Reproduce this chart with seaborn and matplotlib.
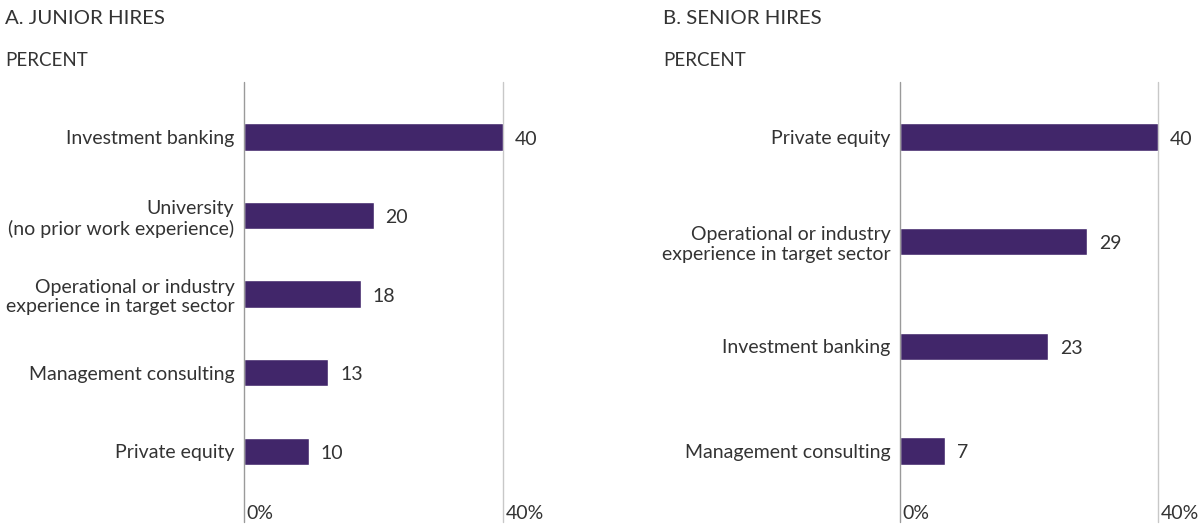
import matplotlib
matplotlib.use("Agg")
import matplotlib.pyplot as plt
import seaborn as sns
import pandas as pd

junior_categories = ["Investment banking", "University\n(no prior work experience)",
                     "Operational or industry\nexperience in target sector",
                     "Management consulting", "Private equity"]
junior_values = [40, 20, 18, 13, 10]
senior_categories = ["Private equity", "Operational or industry\nexperience in target sector",
                     "Investment banking", "Management consulting"]
senior_values = [40, 29, 23, 7]
panel_titles = ["A. JUNIOR HIRES", "B. SENIOR HIRES"]
unit_label = "PERCENT"
tick_values = [0, 40]
tick_labels = ["0%", "40%"]

sns.set_theme(style="white")
plt.rcParams["font.family"] = ["Lato", "DejaVu Sans"]
TXT = "#333333"
BAR = "#41266A"
FS = 14

W, H = 1204, 527
fig = plt.figure(figsize=(W / 100, H / 100), dpi=100)

def px_axes(x0, x1, y0, y1):
    return fig.add_axes([x0 / W, 1 - y1 / H, (x1 - x0) / W, (y1 - y0) / H])

def panel(ax, cats, vals, barh, ylim, title, title_x):
    df = pd.DataFrame({"cat": cats, "val": vals})
    sns.barplot(data=df, y="cat", x="val", orient="h", color=BAR, width=barh,
                saturation=1, ax=ax, zorder=3)
    ax.set_xlim(0, 40)
    ax.set_ylim(*ylim)
    for s in ax.spines.values():
        s.set_visible(False)
    ax.axvline(0, color="#9a9a9a", lw=1, zorder=4, clip_on=False)
    ax.axvline(40, color="#c8c8c8", lw=1, zorder=1, clip_on=False)
    ax.set_xlabel("")
    ax.set_ylabel("")
    ax.set_xticks([])
    ax.tick_params(axis="y", length=0, pad=7, labelsize=FS, labelcolor=TXT)
    for i, v in enumerate(vals):
        ax.annotate(str(v), (v, i), xytext=(8.5, -1.5), textcoords="offset points",
                    va="center", ha="left", fontsize=FS, color=TXT, annotation_clip=False)
    for tv, tl in zip(tick_values, tick_labels):
        ax.annotate(tl, (tv, 0), xycoords=("data", "axes fraction"), xytext=(2, 0),
                    textcoords="offset points", ha="left", va="bottom",
                    fontsize=FS, color=TXT, annotation_clip=False)
    fig.text(title_x / W, 1 - 18 / H, title, fontsize=14.7, color=TXT, va="center", ha="left")
    fig.text(title_x / W, 1 - 60 / H, unit_label, fontsize=13.5, color=TXT, va="center", ha="left")

ax1 = px_axes(244, 503, 82, 522)
panel(ax1, junior_categories, junior_values, 0.35, (4.9, -0.70), panel_titles[0], 5)
ax2 = px_axes(900, 1158, 82, 522)
panel(ax2, senior_categories, senior_values, 0.262, (3.68, -0.525), panel_titles[1], 663)

fig.savefig("out.png", dpi=100, facecolor="white")
